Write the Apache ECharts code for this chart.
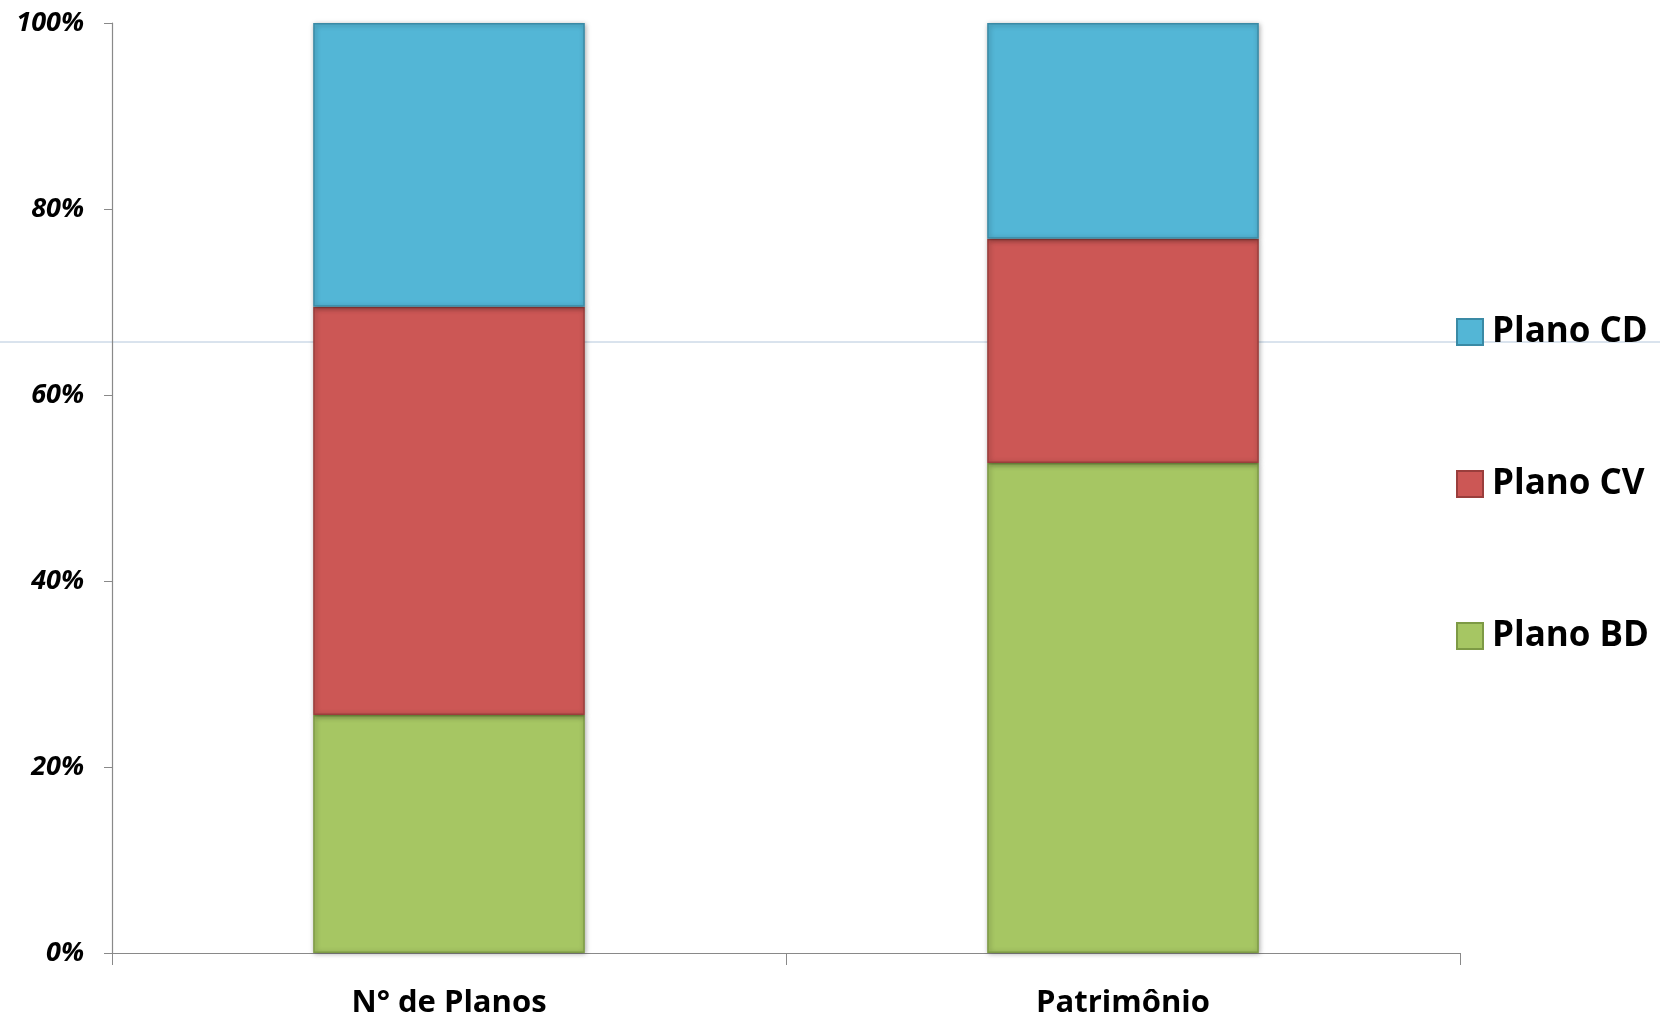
<!DOCTYPE html>
<html>
<head>
<meta charset="utf-8">
<script src="https://cdn.jsdelivr.net/npm/echarts@6/dist/echarts.min.js"></script>
<style>
html,body{margin:0;padding:0;background:#fff;}
#c{width:1660px;height:1019px;}
</style>
</head>
<body>
<div id="c"></div>
<script>
const categories = ['N° de Planos', 'Patrimônio'];
const planoBD = [25.6, 52.7];
const planoCV = [43.9, 24.1];
const planoCD = [30.5, 23.2];
const yTicks = [0, 20, 40, 60, 80, 100];

const FONT = '"Open Sans", "Noto Sans", sans-serif';

function bevel(base, dark) {
  return {
    color: base,
    borderColor: dark,
    borderWidth: 1.5,
    shadowColor: 'rgba(0,0,0,0.35)',
    shadowBlur: 5,
    shadowOffsetX: 1,
    shadowOffsetY: 1
  };
}

const chart = echarts.init(document.getElementById('c'), null, {renderer: 'canvas'});
chart.setOption({
  backgroundColor: '#ffffff',
  animation: false,
  grid: {left: 112, right: 200, top: 23, bottom: 66, containLabel: false},
  graphic: [{
    type: 'line',
    z: -1,
    shape: {x1: 0, y1: 342, x2: 1660, y2: 342},
    style: {stroke: '#b4c7dc', lineWidth: 1}
  }],
  legend: {
    orient: 'vertical',
    left: 1451,
    top: 307,
    itemWidth: 26,
    itemHeight: 26,
    itemGap: 112,
    icon: 'rect',
    data: ['Plano CD', 'Plano CV', 'Plano BD'],
    textStyle: {fontFamily: FONT, fontWeight: 'bold', fontSize: 35, color: '#000', lineHeight: 40, padding: [0, 0, 0, 4]}
  },
  xAxis: {
    type: 'category',
    data: categories,
    boundaryGap: true,
    axisLine: {lineStyle: {color: '#898989', width: 1.2}},
    axisTick: {show: true, alignWithLabel: false, length: 12, lineStyle: {color: '#898989'}},
    axisLabel: {fontFamily: FONT, fontWeight: 'bold', fontSize: 31, color: '#000', margin: 35}
  },
  yAxis: {
    type: 'value',
    min: yTicks[0],
    max: yTicks[yTicks.length - 1],
    interval: 20,
    axisLine: {show: true, lineStyle: {color: '#898989', width: 1.2}},
    axisTick: {show: true, length: 8, lineStyle: {color: '#898989'}},
    splitLine: {show: false},
    axisLabel: {fontFamily: FONT, fontWeight: 'bold', fontStyle: 'italic', fontSize: 27, color: '#000', margin: 28,
      formatter: function (v) { return v + '%'; }}
  },
  series: [
    {name: 'Plano BD', type: 'bar', stack: 's', data: planoBD, barWidth: '40.3%', itemStyle: bevel('#a6c663', '#7d9a45')},
    {name: 'Plano CV', type: 'bar', stack: 's', data: planoCV, barWidth: '40.3%', itemStyle: bevel('#cc5755', '#9a3e3c')},
    {name: 'Plano CD', type: 'bar', stack: 's', data: planoCD, barWidth: '40.3%', itemStyle: bevel('#53b6d6', '#3a8aa5')}
  ]
});
</script>
</body>
</html>
